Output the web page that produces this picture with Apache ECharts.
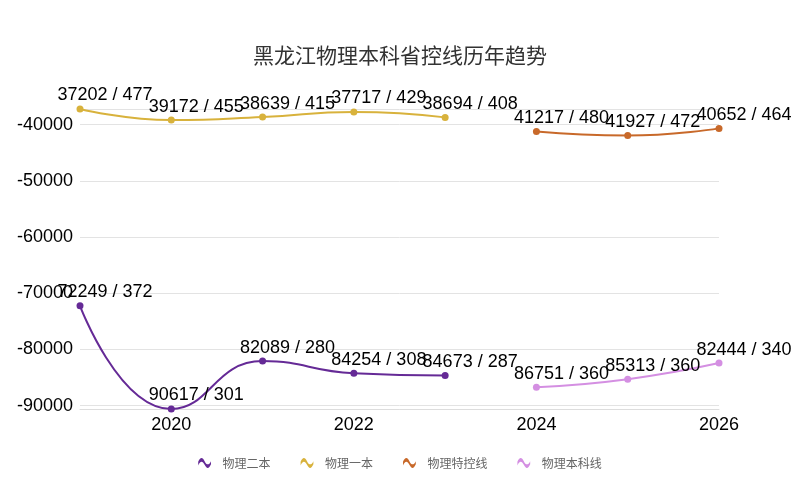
<!DOCTYPE html>
<html>
<head>
<meta charset="utf-8">
<script src="https://cdn.jsdelivr.net/npm/echarts@6/dist/echarts.min.js"></script>
<style>
  html, body { margin: 0; padding: 0; background: #fff; }
  #chart { width: 800px; height: 480px; }
</style>
</head>
<body>
<div id="chart"></div>
<script>
const years = ["2019", "2020", "2021", "2022", "2023", "2024", "2025", "2026"];

// ranks (shown negated on the axis) and scores, per series
const erbenRank = [72249, 90617, 82089, 84254, 84673, null, null, null];
const erbenScore = [372, 301, 280, 308, 287, null, null, null];
const yibenRank = [37202, 39172, 38639, 37717, 38694, null, null, null];
const yibenScore = [477, 455, 415, 429, 408, null, null, null];
const tekongRank = [null, null, null, null, null, 41217, 41927, 40652];
const tekongScore = [null, null, null, null, null, 480, 472, 464];
const benkeRank = [null, null, null, null, null, 86751, 85313, 82444];
const benkeScore = [null, null, null, null, null, 360, 360, 340];

const names = ["物理二本", "物理一本", "物理特控线", "物理本科线"];
const colors = ["#652a96", "#d8b23c", "#c8692a", "#d48fe2"];

const wave = "path://M0,9 C4,0 8,0 12,8 C16,16 20,16 24,8 L24,14 C20,23 16,23 12,15 C8,7 4,7 0,16 Z";
const numFont = "Liberation Sans, Arial, sans-serif";

const makeSeries = (name, ranks, scores, color) => ({
  name: name,
  type: "line",
  smooth: true,
  connectNulls: false,
  symbol: "circle",
  symbolSize: 7,
  data: ranks.map((r) => (r == null ? null : -r)),
  itemStyle: { color: color },
  lineStyle: { color: color, width: 2 },
  label: {
    show: true,
    position: "top",
    distance: 1,
    offset: [25, 0],
    color: "#000",
    fontSize: 18,
    fontFamily: numFont,
    formatter: (p) => ranks[p.dataIndex] + " / " + scores[p.dataIndex],
  },
});

const chart = echarts.init(document.getElementById("chart"));
chart.setOption({
  animation: false,
  title: {
    text: "黑龙江物理本科省控线历年趋势",
    left: "center",
    top: 40,
    textStyle: {
      fontFamily: "Noto Sans CJK SC",
      fontSize: 21,
      fontWeight: "normal",
      color: "#333",
    },
  },
  legend: {
    bottom: 6,
    left: "center",
    itemWidth: 14,
    itemHeight: 10,
    itemGap: 30,
    icon: wave,
    textStyle: {
      fontFamily: "Noto Sans CJK SC",
      fontSize: 12,
      color: "#666",
      padding: [0, 0, 0, 6],
    },
    data: names,
  },
  grid: { left: 80, right: 81, top: 109, bottom: 71 },
  xAxis: {
    type: "category",
    data: years,
    boundaryGap: false,
    axisTick: { show: false },
    axisLine: { lineStyle: { color: "#ddd" } },
    axisLabel: {
      interval: (i) => i % 2 === 1,
      color: "#000",
      fontSize: 18,
      margin: 7,
      fontFamily: numFont,
    },
  },
  yAxis: {
    type: "value",
    min: "dataMin",
    max: "dataMax",
    axisLabel: {
      showMinLabel: false,
      showMaxLabel: false,
      color: "#000",
      fontSize: 18,
      margin: 7,
      fontFamily: numFont,
      formatter: (v) => String(v),
    },
    splitLine: { lineStyle: { color: "#e3e3e3" } },
  },
  series: [
    makeSeries(names[0], erbenRank, erbenScore, colors[0]),
    makeSeries(names[1], yibenRank, yibenScore, colors[1]),
    makeSeries(names[2], tekongRank, tekongScore, colors[2]),
    makeSeries(names[3], benkeRank, benkeScore, colors[3]),
  ],
});
</script>
</body>
</html>
